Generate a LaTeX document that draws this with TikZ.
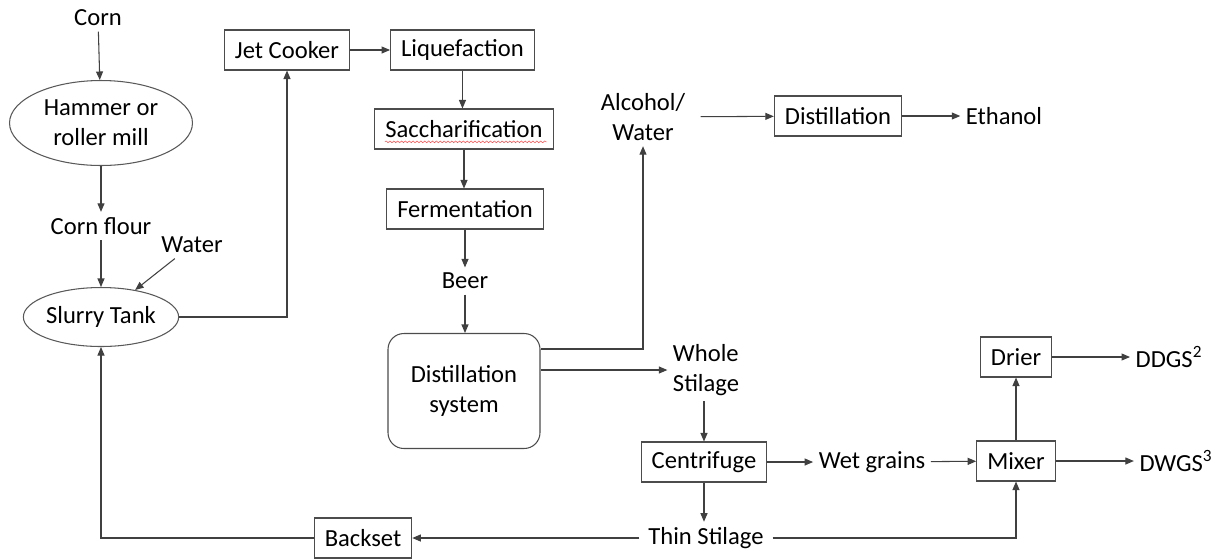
\documentclass[tikz,border=0pt]{standalone}
\usepackage{fontspec}
\setmainfont{Carlito}
\usetikzlibrary{arrows.meta,positioning,shapes.geometric,decorations.pathmorphing}

\begin{document}
\begin{tikzpicture}[x=0.02cm, y=-0.02cm,
  font=\fontsize{14}{17}\selectfont, >={Triangle[length=1.7mm,width=1.4mm]},
  b/.style={draw=black!70, line width=0.6pt, inner xsep=6pt, minimum height=8mm, align=center},
  ell/.style={ellipse, draw=black!65, line width=0.6pt, inner sep=0pt, align=center},
  lbl/.style={align=center, inner sep=3pt},
  a/.style={->, line width=0.6pt, draw=black!75},
]
\useasboundingbox (0,0) rectangle (1224,559);

% milling and slurry
\node[lbl] (corn) at (98,18) {Corn};
\node[ell, minimum width=3.66cm, minimum height=1.7cm] (hammer) at (101,123) {Hammer or\\roller mill};
\node[lbl] (flour) at (101,226) {Corn flour};
\node[lbl] (water) at (192,245) {Water};
\node[ell, minimum width=3.04cm, minimum height=1.18cm] (slurry) at (101,317) {Slurry Tank};

% cooking, conversion, fermentation
\node[b] (jet) at (287,50) {Jet Cooker};
\node[b, right=8mm of jet] (liq) {Liquefaction};
\node[b] (sacch) at (464,129) {Saccharification};
\node[b] (ferm) at (465,209) {Fermentation};
\node[lbl] (beer) at (465,281) {Beer};
\node[b, rounded corners=9pt, minimum width=3.04cm, minimum height=2.3cm] (dsys) at (464,391) {Distillation\\system};

% ethanol line
\node[lbl] (alc) at (643,117) {Alcohol/\\Water};
\node[b] (dist) at (838,116) {Distillation};
\node[lbl] (eth) at (1004,116) {Ethanol};

% stillage line
\node[lbl, align=left] (whole) at (706,370) {Whole\\Stilage};
\node[b] (cent) at (704,462) {Centrifuge};
\node[lbl] (wet) at (872,462) {Wet grains};
\node[b] (mixer) at (1016,461) {Mixer};
\node[b] (drier) at (1016,357) {Drier};
\node[lbl] (ddgs) at (1169,357) {DDGS\textsuperscript{2}};
\node[lbl] (dwgs) at (1176,461) {DWGS\textsuperscript{3}};
\node[lbl, inner xsep=5pt] (thin) at (706,538) {Thin Stilage};
\node[b] (backset) at (363,538) {Backset};

% spell-check underline
\draw[red!70, line width=0.3pt, decorate, decoration={snake, amplitude=0.5pt, segment length=2.2pt}]
  ([xshift=6pt,yshift=-2.5pt]sacch.base west) -- ([xshift=-4pt,yshift=-2.5pt]sacch.base east);

\coordinate (dout) at ([yshift=0.84cm]dsys.east);

\draw[a] (corn) -- (hammer);
\draw[a] (hammer) -- (flour);
\draw[a] (flour) -- (slurry);
\draw[a] (water) -- (slurry);
\draw[a] (slurry.east) -| (jet.south);
\draw[a] (jet) -- (liq);
\draw[a] (liq) -- (liq |- sacch.north);
\draw[a] (sacch) -- (sacch |- ferm.north);
\draw[a] (ferm) -- (ferm |- beer.north);
\draw[a] (beer) -- (beer |- dsys.north);
\draw[a] (dout) -| (alc.south);
\draw[a] (dsys.east |- whole.west) -- (whole.west);
\draw[a, shorten <=2mm] (alc) -- (dist);
\draw[a] (dist) -- (eth);
\draw[a] (cent.north |- whole.south) -- (cent.north);
\draw[a] (cent) -- (wet);
\draw[a] (wet) -- (mixer);
\draw[a] (mixer) -- (drier);
\draw[a] (drier) -- (ddgs);
\draw[a] (mixer) -- (dwgs);
\draw[a] (cent.south) -- (cent.south |- thin.north);
\draw[a] (thin) -- (backset);
\draw[a] (backset) -| (slurry.south);
\draw[a] (thin.east) -| (mixer.south);
\end{tikzpicture}
\end{document}
